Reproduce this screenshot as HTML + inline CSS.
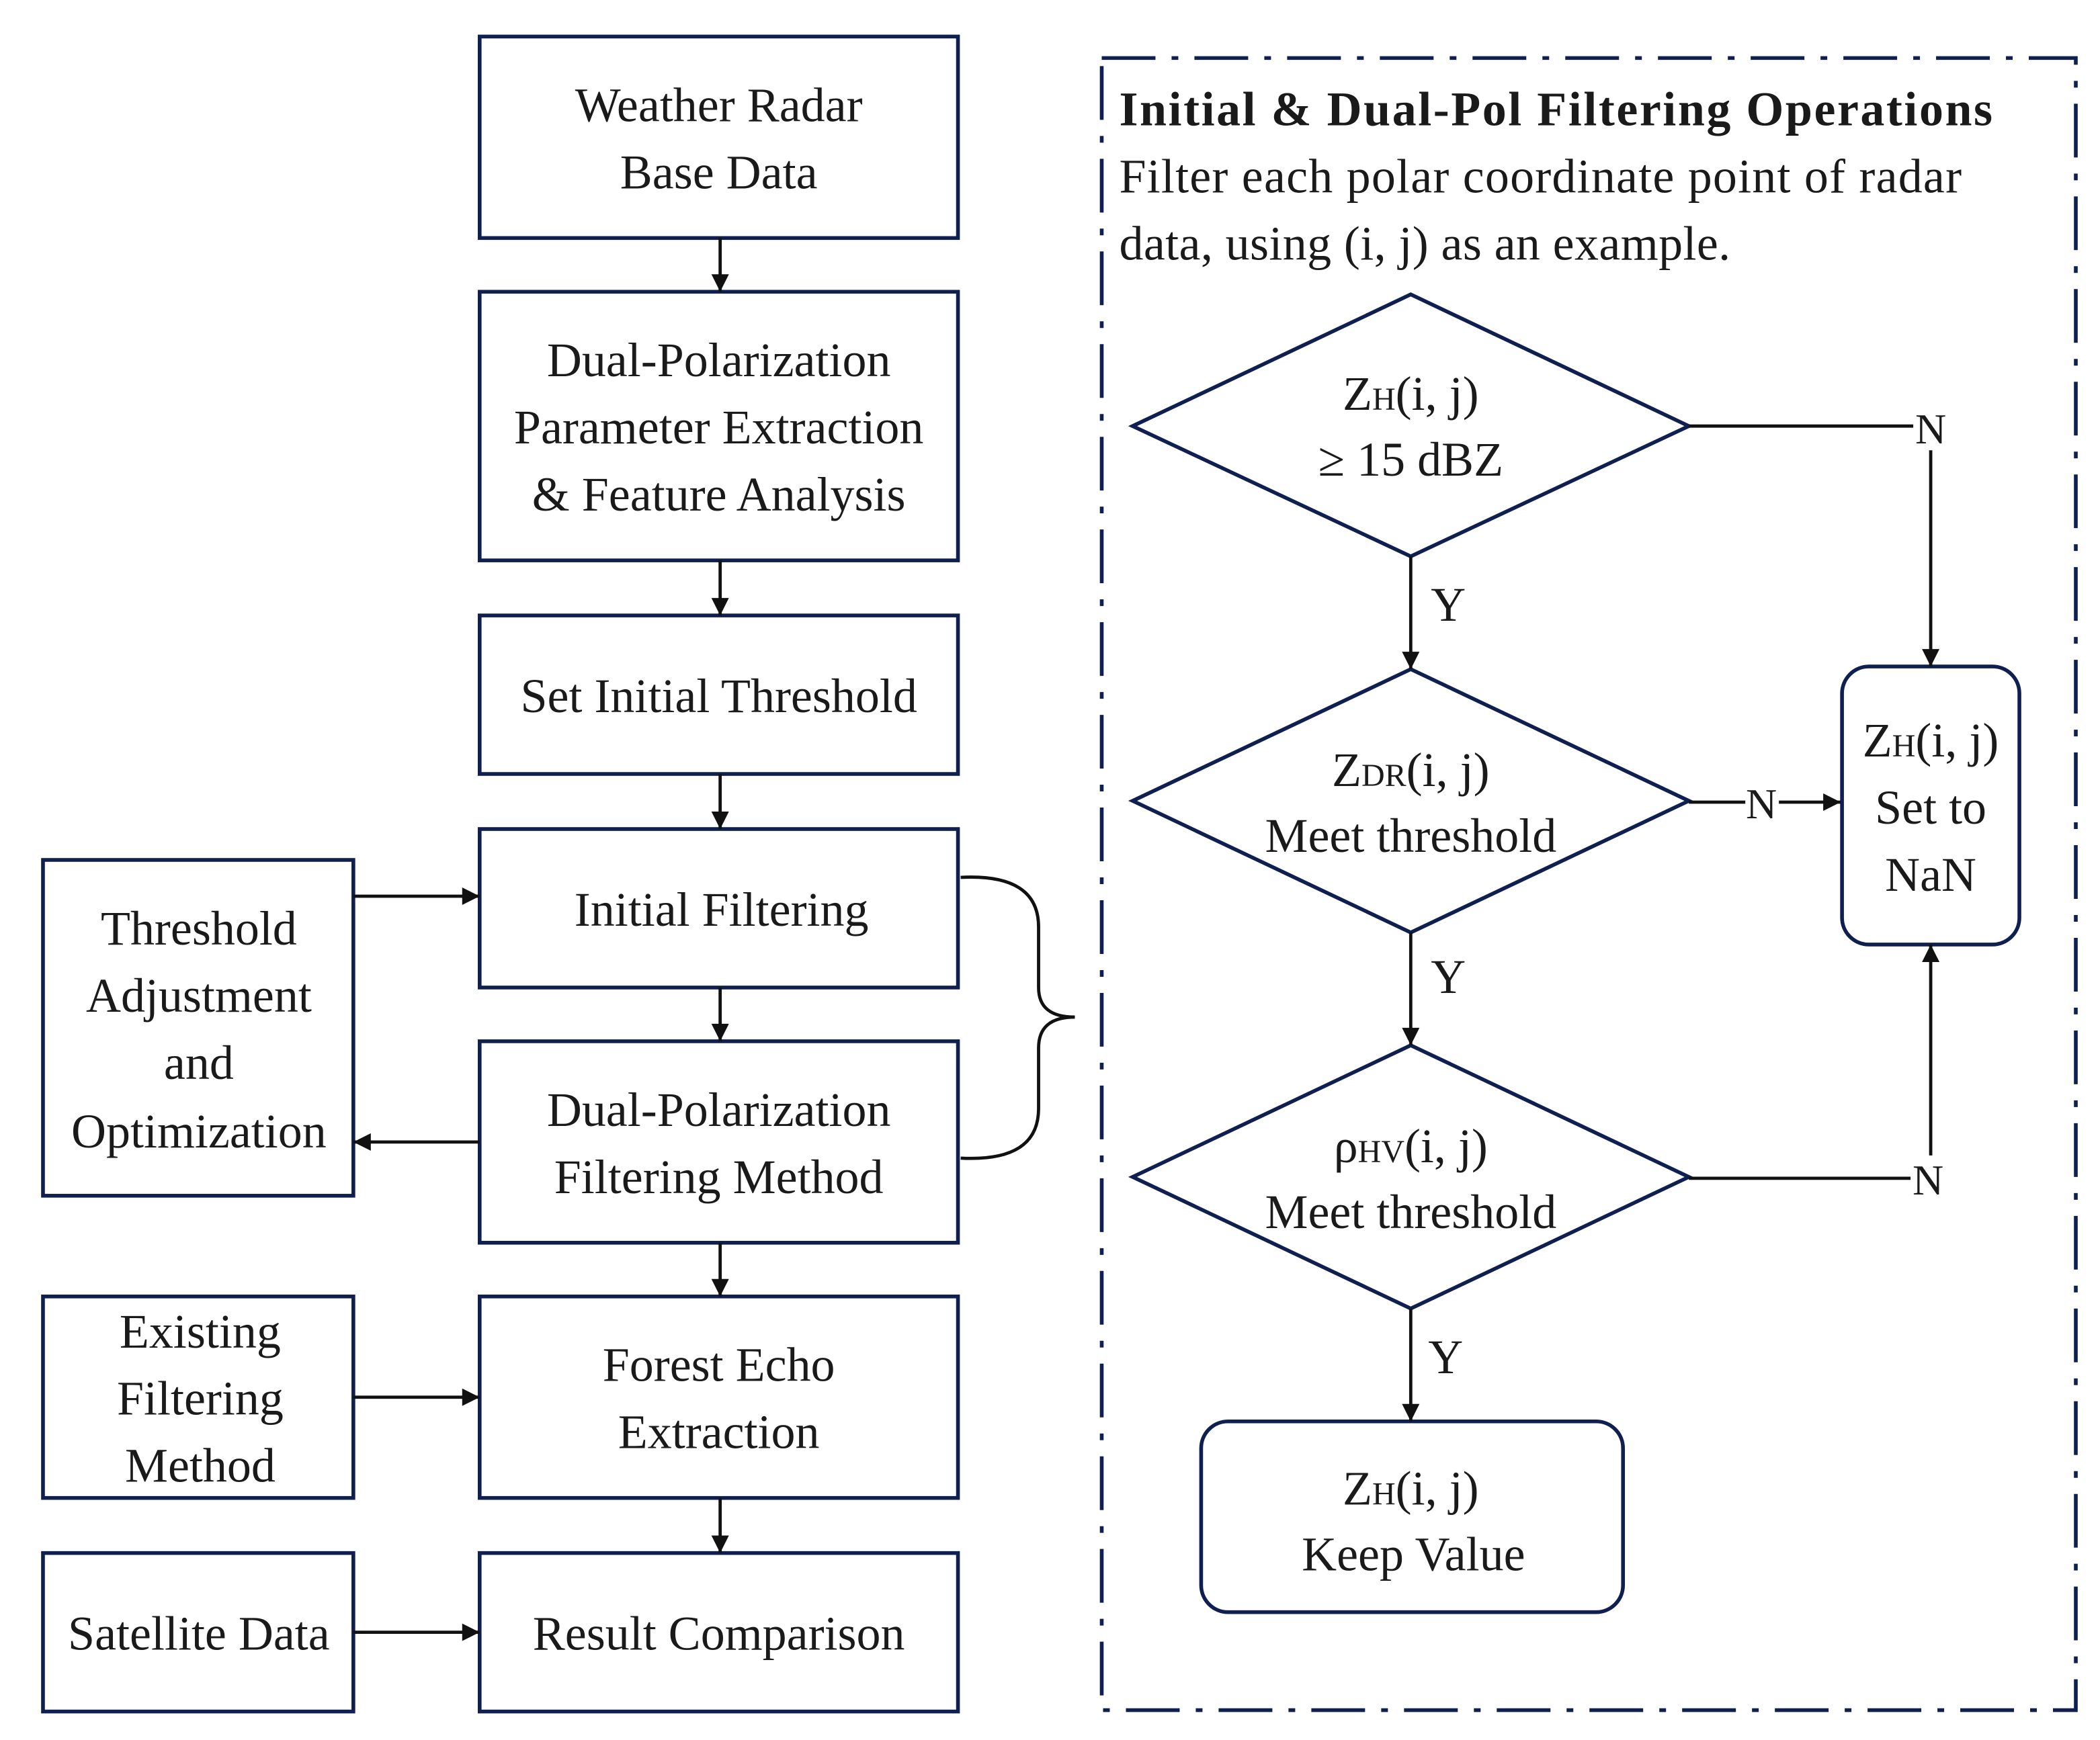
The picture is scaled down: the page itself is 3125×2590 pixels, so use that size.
<!DOCTYPE html>
<html><head><meta charset="utf-8"><style>
html,body{margin:0;padding:0;background:#fff;}
svg{display:block;}
text{font-family:"Liberation Serif",serif;fill:#1a1a1a;}
</style></head><body>
<svg width="3125" height="2590" viewBox="0 0 1563 1295" xmlns="http://www.w3.org/2000/svg">
<defs>
<marker id="a" viewBox="0 0 10 10" refX="10" refY="5" markerWidth="14" markerHeight="13" markerUnits="userSpaceOnUse" orient="auto"><path d="M0,0 L10,5 L0,10 z" fill="#111"/></marker>
</defs>
<g fill="none" stroke="#0f1f4f" stroke-width="2.8">
<rect x="357" y="27" width="356" height="150"/>
<rect x="357" y="217" width="356" height="200"/>
<rect x="357" y="458" width="356" height="118"/>
<rect x="357" y="617" width="356" height="118"/>
<rect x="357" y="775" width="356" height="150"/>
<rect x="357" y="965" width="356" height="150"/>
<rect x="357" y="1156" width="356" height="118"/>
<rect x="32" y="640" width="231" height="250"/>
<rect x="32" y="965" width="231" height="150"/>
<rect x="32" y="1156" width="231" height="118"/>
<rect x="820" y="43" width="725" height="1230" stroke-dasharray="40,12,5,12"/>
<polygon points="843,317 1050,219 1257,317 1050,414"/>
<polygon points="843,596 1050,498 1257,596 1050,694"/>
<polygon points="843,876 1050,778 1257,876 1050,974"/>
<rect x="894" y="1058" width="314" height="142" rx="20"/>
<rect x="1371" y="496" width="132" height="207" rx="20"/>
</g>
<g stroke="#111" stroke-width="2.4" fill="none">
<line x1="536" y1="177" x2="536" y2="217" marker-end="url(#a)"/>
<line x1="536" y1="417" x2="536" y2="458" marker-end="url(#a)"/>
<line x1="536" y1="576" x2="536" y2="617" marker-end="url(#a)"/>
<line x1="536" y1="735" x2="536" y2="775" marker-end="url(#a)"/>
<line x1="536" y1="925" x2="536" y2="965" marker-end="url(#a)"/>
<line x1="536" y1="1115" x2="536" y2="1156" marker-end="url(#a)"/>
<line x1="263" y1="667" x2="357" y2="667" marker-end="url(#a)"/>
<line x1="357" y1="850" x2="263" y2="850" marker-end="url(#a)"/>
<line x1="263" y1="1040" x2="357" y2="1040" marker-end="url(#a)"/>
<line x1="263" y1="1215" x2="357" y2="1215" marker-end="url(#a)"/>
<path d="M715,653 Q773,650 773,690 L773,735 Q773,757 800,757 Q773,757 773,780 L773,825 Q773,865 715,862"/>
<line x1="1050" y1="414" x2="1050" y2="498" marker-end="url(#a)"/>
<line x1="1050" y1="694" x2="1050" y2="778" marker-end="url(#a)"/>
<line x1="1050" y1="974" x2="1050" y2="1058" marker-end="url(#a)"/>
<line x1="1257" y1="317" x2="1424" y2="317"/>
<line x1="1437" y1="335" x2="1437" y2="496" marker-end="url(#a)"/>
<line x1="1257" y1="597" x2="1299" y2="597"/>
<line x1="1324" y1="597" x2="1370" y2="597" marker-end="url(#a)"/>
<line x1="1257" y1="877" x2="1422" y2="877"/>
<line x1="1437" y1="860" x2="1437" y2="703" marker-end="url(#a)"/>
</g>
<g font-size="36" text-anchor="middle">
<text x="535" y="90">Weather Radar</text>
<text x="535" y="140">Base Data</text>
<text x="535" y="280">Dual-Polarization</text>
<text x="535" y="330">Parameter Extraction</text>
<text x="535" y="380">&amp; Feature Analysis</text>
<text x="535" y="530">Set Initial Threshold</text>
<text x="537" y="689">Initial Filtering</text>
<text x="535" y="838">Dual-Polarization</text>
<text x="535" y="888">Filtering Method</text>
<text x="535" y="1028">Forest Echo</text>
<text x="535" y="1078">Extraction</text>
<text x="535" y="1228">Result Comparison</text>
<text x="148" y="703">Threshold</text>
<text x="148" y="753">Adjustment</text>
<text x="148" y="803">and</text>
<text x="148" y="854">Optimization</text>
<text x="149" y="1003">Existing</text>
<text x="149" y="1053">Filtering</text>
<text x="149" y="1103">Method</text>
<text x="148" y="1228">Satellite Data</text>
<text x="1050" y="305">Z<tspan font-size="24">H</tspan>(i, j)</text>
<text x="1050" y="354">≥ 15 dBZ</text>
<text x="1050" y="585">Z<tspan font-size="24">DR</tspan>(i, j)</text>
<text x="1050" y="634">Meet threshold</text>
<text x="1050" y="865">ρ<tspan font-size="24">HV</tspan>(i, j)</text>
<text x="1050" y="914">Meet threshold</text>
<text x="1050" y="1120">Z<tspan font-size="24">H</tspan>(i, j)</text>
<text x="1052" y="1169">Keep Value</text>
<text x="1437" y="563">Z<tspan font-size="24">H</tspan>(i, j)</text>
<text x="1437" y="613">Set to</text>
<text x="1437" y="663">NaN</text>
<text x="1078" y="462">Y</text>
<text x="1078" y="739">Y</text>
<text x="1076" y="1022">Y</text>
<text x="1437" y="330" font-size="32">N</text>
<text x="1311" y="609" font-size="32">N</text>
<text x="1435" y="889" font-size="32">N</text>
</g>
<text x="833" y="93" font-size="36" font-weight="bold" textLength="650" lengthAdjust="spacing">Initial &amp; Dual-Pol Filtering Operations</text>
<text x="833" y="143" font-size="36" textLength="627" lengthAdjust="spacing">Filter each polar coordinate point of radar</text>
<text x="833" y="193" font-size="36" textLength="455" lengthAdjust="spacing">data, using (i, j) as an example.</text>
</svg>
</body></html>
